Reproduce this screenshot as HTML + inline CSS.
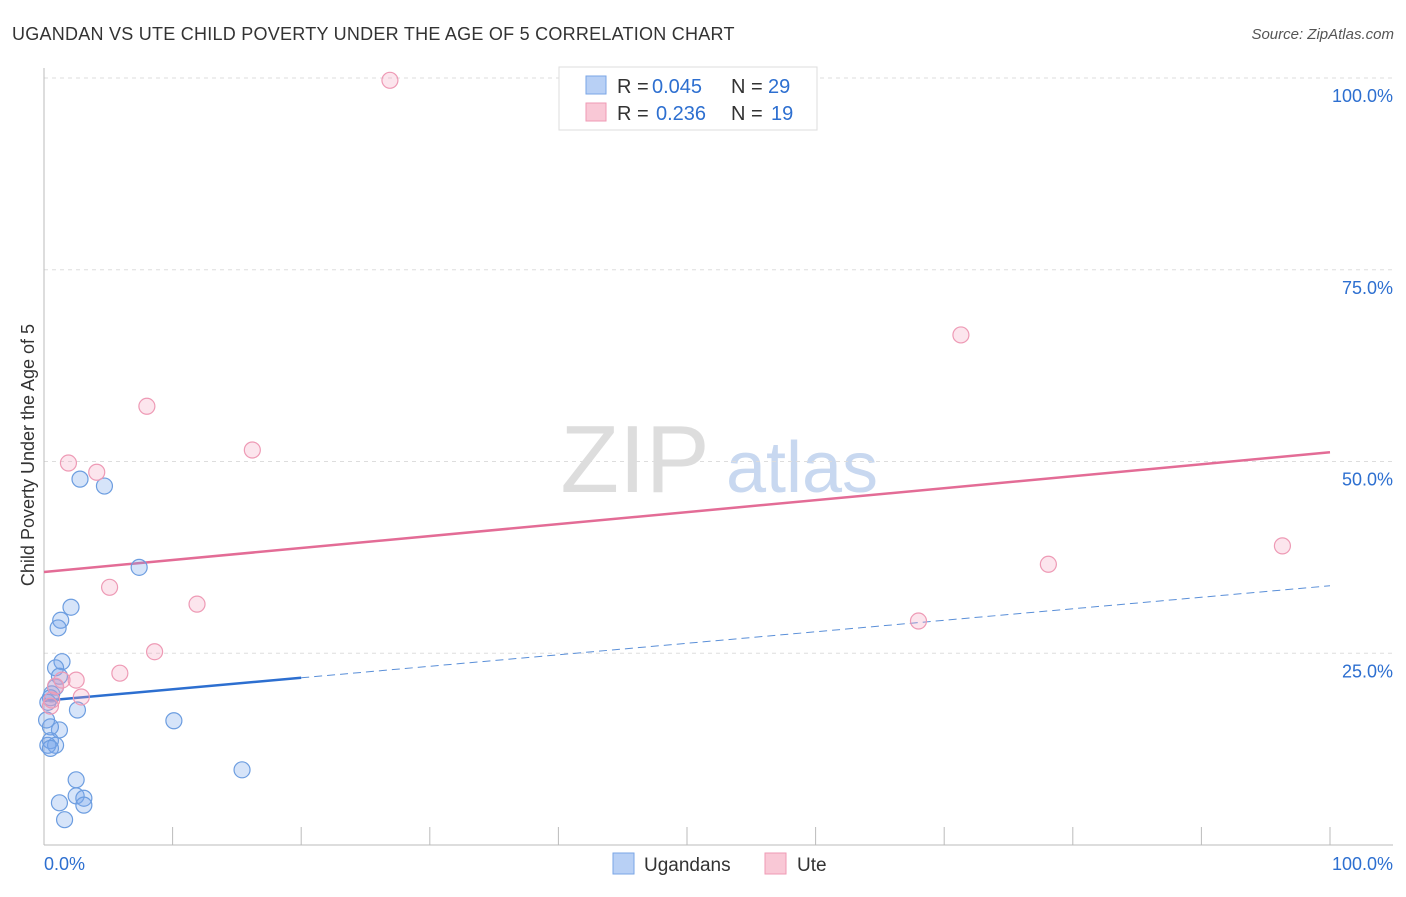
<!DOCTYPE html>
<html><head><meta charset="utf-8"><style>
body{margin:0;background:#fff;font-family:"Liberation Sans",sans-serif}
svg text{font-family:"Liberation Sans",sans-serif}
</style></head><body>
<svg id="c" width="1406" height="892">
<text x="12" y="40" font-size="18" fill="#333" letter-spacing="0.25">UGANDAN VS UTE CHILD POVERTY UNDER THE AGE OF 5 CORRELATION CHART</text>
<text x="1394" y="39" font-size="15" fill="#555" text-anchor="end" font-style="italic">Source: ZipAtlas.com</text>
<text x="635" y="492" font-size="96" fill="#ddd" text-anchor="middle" font-family="Liberation Serif">ZIP</text>
<text x="802" y="492" font-size="72" fill="#c8d8f0" text-anchor="middle">atlas</text>
<text transform="translate(34,455) rotate(-90)" font-size="18" fill="#333" text-anchor="middle">Child Poverty Under the Age of 5</text>
<g id="grid"></g><g id="lines"></g><g id="pts"></g>
<g>
<rect x="559" y="67" width="258" height="63" fill="#fff" stroke="#ddd"/>
<rect x="586" y="76" width="20" height="18" fill="#b8d0f5" stroke="#7aa6e6"/>
<rect x="586" y="103" width="20" height="18" fill="#f9c8d6" stroke="#ef9ab4"/>
<text x="617" y="93" font-size="20" fill="#333">R =</text>
<text x="652" y="93" font-size="20" fill="#2d6fd0">0.045</text>
<text x="731" y="93" font-size="20" fill="#333">N =</text>
<text x="768" y="93" font-size="20" fill="#2d6fd0">29</text>
<text x="617" y="120" font-size="20" fill="#333">R =</text>
<text x="656" y="120" font-size="20" fill="#2d6fd0">0.236</text>
<text x="731" y="120" font-size="20" fill="#333">N =</text>
<text x="771" y="120" font-size="20" fill="#2d6fd0">19</text>
</g>
<g>
<rect x="613" y="853" width="21" height="21" fill="#b8d0f5" stroke="#7aa6e6"/>
<text x="644" y="871" font-size="19" fill="#333">Ugandans</text>
<rect x="765" y="853" width="21" height="21" fill="#f9c8d6" stroke="#ef9ab4"/>
<text x="797" y="871" font-size="19" fill="#333">Ute</text>
</g>
<text x="44" y="870" font-size="18" fill="#2d6fd0">0.0%</text>
<text x="1393" y="870" font-size="18" fill="#2d6fd0" text-anchor="end">100.0%</text>
</svg>
<script>
const yTicks=[100,75,50,25];
const xTicks=[0,10,20,30,40,50,60,70,80,90,100];
const blueX=[2.8,4.7,7.4,2.1,1.3,1.1,1.4,0.9,1.2,0.9,0.6,0.5,0.3,2.6,1.2,0.5,0.5,0.9,0.3,0.5,10.1,15.4,2.5,2.5,3.1,3.1,1.2,1.6,0.2];
const blueY=[47.7,46.8,36.2,31.0,29.3,28.3,23.9,23.1,22.0,20.6,19.7,19.2,18.6,17.6,15.0,15.4,13.6,13.0,13.0,12.6,16.2,9.8,8.5,6.4,6.1,5.2,5.5,3.3,16.3];
const pinkX=[26.9,71.3,8.0,16.2,1.9,4.1,5.1,11.9,8.6,5.9,2.5,0.9,2.9,0.6,0.5,68.0,78.1,96.3,1.4];
const pinkY=[99.7,66.5,57.2,51.5,49.8,48.6,33.6,31.4,25.2,22.4,21.5,20.7,19.3,18.9,18.1,29.2,36.6,39.0,21.5];
const blueTrend=[18.8,33.8];
const pinkTrend=[35.6,51.2];
const X=v=>44+v*12.86, Y=v=>845-v*7.67;
const NS="http://www.w3.org/2000/svg";
function mk(t,a,p){const e=document.createElementNS(NS,t);for(const k in a)e.setAttribute(k,a[k]);document.getElementById(p).appendChild(e);return e;}
yTicks.forEach(t=>{
 const l=mk('line',{x1:44,x2:1393,y1:Y(t),y2:Y(t),stroke:'#ddd','stroke-dasharray':'4,4'},'grid');
 
 
 const tx=mk('text',{x:1393,y:Y(t)+24,'font-size':18,fill:'#2d6fd0','text-anchor':'end'},'grid');
 tx.textContent=t.toFixed(1)+'%';
 
 
});
const ax=mk('line',{x1:44,x2:1393,y1:845,y2:845,stroke:'#bbb'},'grid');


const ay=mk('line',{x1:44,x2:44,y1:68,y2:845,stroke:'#bbb'},'grid');


xTicks.forEach(t=>{
 const l=mk('line',{x1:X(t),x2:X(t),y1:827,y2:845,stroke:'#bbb'},'grid');
 
 
});
const tb=v=>blueTrend[0]+(blueTrend[1]-blueTrend[0])*v/100;
const tp=v=>pinkTrend[0]+(pinkTrend[1]-pinkTrend[0])*v/100;
let e=mk('line',{x1:X(0),y1:Y(tb(0)),x2:X(20),y2:Y(tb(20)),stroke:'#2d6fd0','stroke-width':2.5},'lines');


e=mk('line',{x1:X(20),y1:Y(tb(20)),x2:X(100),y2:Y(tb(100)),stroke:'#5a8fd8','stroke-width':1,'stroke-dasharray':'8,5'},'lines');


e=mk('line',{x1:X(0),y1:Y(tp(0)),x2:X(100),y2:Y(tp(100)),stroke:'#e36c96','stroke-width':2.5},'lines');


blueX.forEach((v,i)=>{
 const c=mk('circle',{cx:X(v),cy:Y(blueY[i]),r:8,fill:'rgba(120,165,235,0.3)',stroke:'#6c9de0','stroke-width':1.2},'pts');
 
 
});
pinkX.forEach((v,i)=>{
 const c=mk('circle',{cx:X(v),cy:Y(pinkY[i]),r:8,fill:'rgba(245,160,190,0.28)',stroke:'#ee9ab5','stroke-width':1.2},'pts');
 
 
});
</script>
</body></html>
